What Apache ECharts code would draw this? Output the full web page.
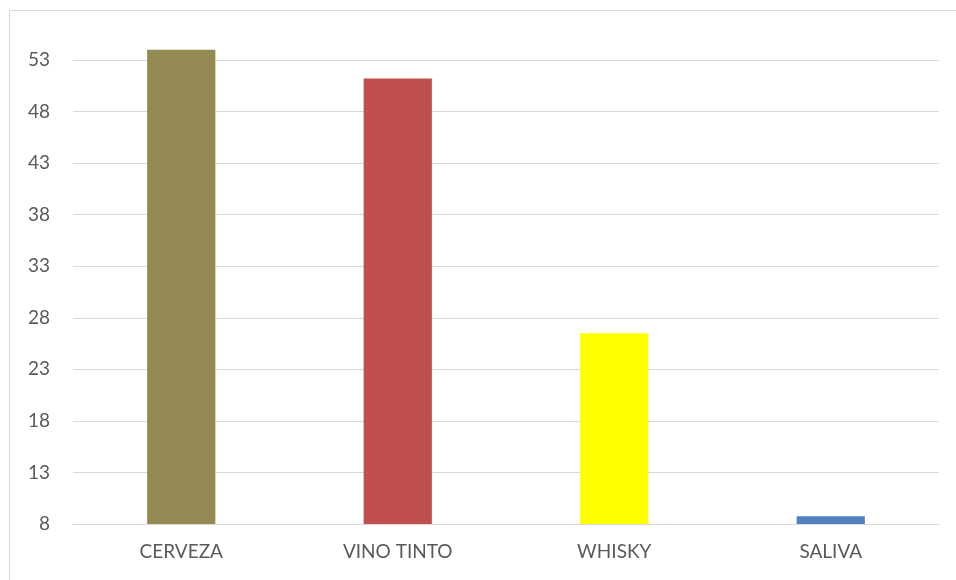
<!DOCTYPE html>
<html>
<head>
<meta charset="utf-8">
<script src="https://cdn.jsdelivr.net/npm/echarts@6/dist/echarts.min.js"></script>
<style>
  html, body { margin: 0; padding: 0; background: #fff; }
  #chart { width: 956px; height: 580px; }
</style>
</head>
<body>
<div id="chart"></div>
<script>
// datos
const categories = ['CERVEZA', 'VINO TINTO', 'WHISKY', 'SALIVA']
const values = [54, 51.2, 26.5, 8.75]
const barColors = ['#948A54', '#C0504D', '#FFFF00', '#4F81BD']
const yMin = 8
const yMax = 53
const yStep = 5

let myChart = echarts.init(document.getElementById('chart'))
let option = {
  animation: false,
  backgroundColor: '#fff',
  textStyle: { fontFamily: 'Lato' },
  graphic: [
    {
      type: 'rect',
      shape: { x: 9.5, y: 10.5, width: 1000, height: 1000 },
      style: { fill: 'none', stroke: '#d9d9d9', lineWidth: 1 },
      silent: true
    }
  ],
  grid: {
    left: 73,
    right: 17,
    top: 60,
    bottom: 56
  },
  xAxis: {
    type: 'category',
    data: categories,
    axisTick: { show: false },
    axisLine: { lineStyle: { color: '#d9d9d9' } },
    axisLabel: {
      color: '#595959',
      fontSize: 19,
      margin: 18
    }
  },
  yAxis: {
    type: 'value',
    min: yMin,
    max: yMax,
    interval: yStep,
    axisTick: { show: false },
    axisLine: { show: false },
    axisLabel: {
      color: '#595959',
      fontSize: 19,
      margin: 23
    },
    splitLine: {
      lineStyle: { color: '#d9d9d9' }
    }
  },
  series: [
    {
      // base invisible hasta el mínimo del eje
      type: 'bar',
      stack: 'total',
      barWidth: '31.5%',
      clip: false,
      silent: true,
      itemStyle: { color: 'rgba(0,0,0,0)' },
      data: values.map(() => yMin)
    },
    {
      type: 'bar',
      stack: 'total',
      barWidth: '31.5%',
      clip: false,
      data: values.map((v, i) => ({
        value: v - yMin,
        itemStyle: { color: barColors[i] }
      }))
    }
  ]
}
myChart.setOption(option)
</script>
</body>
</html>
